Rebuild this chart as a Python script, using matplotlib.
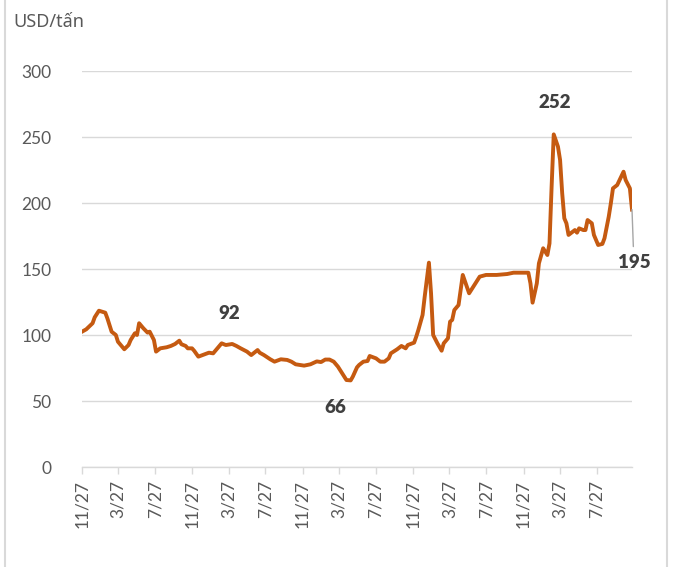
import numpy as np
import pandas as pd
import matplotlib
matplotlib.use("Agg")
import matplotlib.pyplot as plt
from matplotlib.lines import Line2D

plt.rcParams['font.family'] = ['Lato', 'Noto Sans', 'DejaVu Sans']

# weekly series: week number counted from 2017-11-27, price in USD/tan
start = pd.Timestamp('2017-11-27')
end = pd.Timestamp('2022-11-21')
weeks = [0, 2, 5, 6, 8, 11, 12, 14, 16, 17, 20, 22, 23, 25, 26, 27, 29, 31, 32, 34,
         35, 37, 40, 42, 44, 46, 47, 49, 50, 52, 53, 55, 57, 60, 62, 64, 66, 68, 71, 73,
         75, 78, 80, 83, 84, 86, 89, 91, 94, 97, 99, 101, 105, 108, 111, 113, 115, 117, 119, 121,
         123, 125, 127, 128, 130, 131, 133, 135, 136, 139, 141, 143, 145, 146, 149, 151, 153, 154, 157, 158,
         159, 161, 162, 164, 165, 166, 168, 170, 171, 173, 174, 175, 176, 178, 179, 180, 183, 185, 188, 191,
         196, 201, 204, 207, 211, 212, 213, 215, 216, 218, 220, 221, 222, 223, 225, 226, 227, 228, 229, 230,
         231, 233, 234, 235, 237, 238, 239, 241, 242, 244, 246, 247, 249, 250, 251, 253, 256, 257, 259, 260]
prices = [102.5, 104.3, 108.9, 113.4, 118.4, 116.9, 112.6, 102.5, 100.0, 94.9, 89.2, 92.4, 96.2, 101.3, 100.0, 108.9, 105.1, 101.8, 102.5, 96.2,
          87.4, 89.9, 90.7, 91.7, 93.2, 95.7, 93.0, 91.7, 89.9, 89.9, 88.1, 83.6, 84.8, 86.6, 86.1, 89.9, 93.7, 92.4, 93.2, 91.7,
          89.9, 87.4, 84.8, 88.6, 86.6, 84.8, 81.6, 79.8, 81.6, 81.1, 79.8, 77.8, 76.8, 77.8, 80.0, 79.5, 81.4, 81.4, 79.8, 76.0,
          71.0, 65.9, 65.6, 68.4, 75.5, 77.3, 79.8, 80.3, 84.1, 82.3, 79.8, 79.8, 82.3, 86.1, 89.2, 91.7, 89.9, 92.4, 94.2, 98.7,
          103.8, 115.2, 129.0, 154.8, 131.6, 100.0, 93.7, 88.1, 93.7, 97.5, 110.1, 111.4, 118.9, 122.7, 134.1, 145.5, 131.6, 136.6, 144.2, 145.5,
          145.5, 146.2, 147.2, 147.2, 147.2, 139.1, 124.5, 139.1, 154.3, 165.7, 160.6, 169.4, 212.4, 252.0, 242.7, 232.6, 207.4, 188.4, 184.6, 175.8,
          177.0, 179.5, 177.5, 180.8, 179.5, 179.5, 187.1, 184.6, 175.8, 168.2, 169.0, 173.3, 189.6, 199.8, 211.1, 213.6, 223.7, 217.4, 211.1, 195.0]

dates = [start + pd.Timedelta(weeks=w) for w in weeks]

tick_dates = []
for yr in range(2017, 2023):
    for m in (3, 7, 11):
        d = pd.Timestamp(year=yr, month=m, day=27)
        if start <= d <= end:
            tick_dates.append(d)
tick_labels = [f"{d.month}/{d.day}" for d in tick_dates]

# labelled points: (text, date of label centre, value of label centre)
labels = [("92", start + pd.Timedelta(weeks=69.5), 116),
          ("66", start + pd.Timedelta(weeks=119.6), 44.7),
          ("252", start + pd.Timedelta(weeks=223.6), 276.5)]

fig = plt.figure(figsize=(6.75, 5.67), dpi=100)
ax = fig.add_axes([82 / 675, 1 - 467 / 567, 550 / 675, 396 / 567])

ax.plot(dates, prices, color='#C55A11', lw=2.8, solid_joinstyle='round', zorder=3)

ax.set_xlim(start, end)
ax.set_ylim(0, 300)
ax.set_yticks(np.arange(0, 301, 50))
ax.yaxis.grid(True, color='#D9D9D9', lw=1)
ax.set_axisbelow(True)
for s in ('top', 'right', 'left'):
    ax.spines[s].set_visible(False)
ax.spines['bottom'].set_color('#D9D9D9')
ax.spines['bottom'].set_linewidth(1)
ax.tick_params(axis='y', length=0, pad=22, labelsize=12.5, labelcolor='#595959')
ax.tick_params(axis='x', length=5, width=1, color='#D9D9D9', labelsize=12.5,
               labelcolor='#595959', pad=4)
ax.set_xticks(tick_dates)
ax.set_xticklabels(tick_labels, rotation=90)

for txt, d, v in labels:
    ax.text(d, v, txt, ha='center', va='center', fontsize=13.5, fontweight='heavy', color='#404040')

ax.annotate("195", xy=(dates[-1], prices[-1]), xytext=(start + pd.Timedelta(weeks=260.9), 155.3),
            ha='center', va='center', fontsize=13.5, fontweight='heavy', color='#404040',
            arrowprops=dict(arrowstyle='-', color='#A6A6A6', lw=1, shrinkA=3, shrinkB=0),
            annotation_clip=False)

fig.text(13 / 675, 1 - 22 / 567, "USD/tấn", ha='left', va='center', fontsize=13,
         color='#595959', family=['Noto Sans', 'DejaVu Sans'])

# light frame lines at left and right
fig.add_artist(Line2D([5 / 675, 5 / 675], [0, 1], color='#D9D9D9', lw=1.5))
fig.add_artist(Line2D([667 / 675, 667 / 675], [0, 1], color='#D9D9D9', lw=1.5))

fig.savefig('out.png', dpi=100)
